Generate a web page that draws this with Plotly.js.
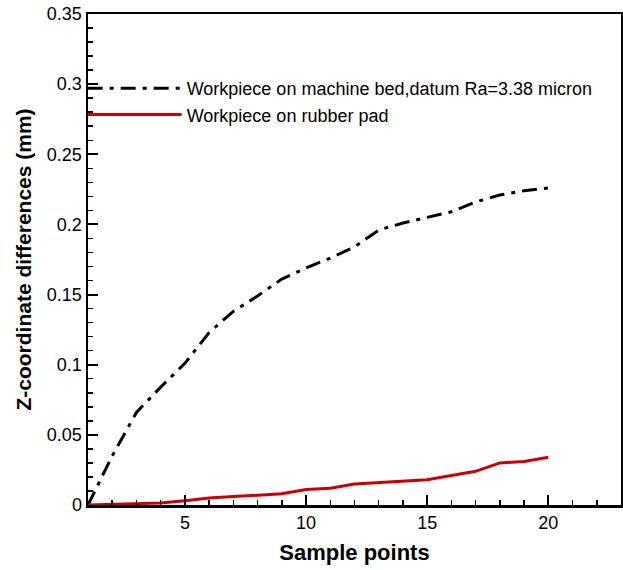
<!DOCTYPE html>
<html>
<head>
<meta charset="utf-8">
<script src="https://cdn.plot.ly/plotly-3.0.1.min.js"></script>
<style>html,body{margin:0;padding:0;background:#fff;}#chart{width:623px;height:570px;}</style>
</head>
<body>
<div id="chart"></div>
<script>
const samplePoints = [1,2,3,4,5,6,7,8,9,10,11,12,13,14,15,16,17,18,19,20];
const machineBed = [0,0.035,0.066,0.084,0.101,0.123,0.138,0.149,0.161,0.169,0.176,0.184,0.196,0.201,0.205,0.209,0.216,0.221,0.224,0.226];
const rubberPad = [0,0.0005,0.001,0.0015,0.003,0.005,0.006,0.007,0.008,0.011,0.012,0.015,0.016,0.017,0.018,0.021,0.024,0.030,0.031,0.034];
const seriesNames = ['Workpiece on machine bed,datum Ra=3.38 micron', 'Workpiece on rubber pad'];
const xTicks = [5,10,15,20];
const yTicks = [0,0.05,0.1,0.15,0.2,0.25,0.3,0.35];
const yTickText = ['0','0.05','0.1','0.15','0.2','0.25','0.3','0.35'];

const traces = [
  {x: samplePoints, y: machineBed, name: seriesNames[0], mode: 'lines',
   line: {color: '#000000', width: 3, dash: '15px,7px,4px,7px'}},
  {x: samplePoints, y: rubberPad, name: seriesNames[1], mode: 'lines',
   line: {color: '#cc0000', width: 3}}
];

const fam = 'Arial, Liberation Sans, sans-serif';
const axisFont = {family: fam, size: 18, color: '#000'};
const layout = {
  width: 623, height: 570,
  margin: {l: 88, r: 2, t: 14, b: 65},
  paper_bgcolor: '#fff', plot_bgcolor: '#fff',
  showlegend: true,
  legend: {x: -0.01, y: 0.886, xanchor: 'left', yanchor: 'top', bgcolor: 'rgba(0,0,0,0)',
           font: {family: fam, size: 18, color: '#000'},
           itemwidth: 94, tracegroupgap: 0},
  xaxis: {
    range: [1, 23], tickvals: xTicks, ticks: 'inside', ticklen: 10, tickwidth: 2, tickcolor: '#000',
    showline: true, linecolor: '#000', linewidth: 2.5, mirror: true, showgrid: false, zeroline: false,
    tickfont: axisFont,
    minor: {dtick: 1, ticks: 'inside', ticklen: 5, tickwidth: 1.5, tickcolor: '#000', showgrid: false},
    title: {text: '<b>Sample points</b>', font: {family: fam, size: 22, color: '#000'}, standoff: 13}
  },
  yaxis: {
    range: [0, 0.35], tickvals: yTicks, ticktext: yTickText, ticks: 'inside', ticklen: 10, tickwidth: 2, tickcolor: '#000',
    showline: true, linecolor: '#000', linewidth: 2.5, mirror: true, showgrid: false, zeroline: false,
    tickfont: axisFont,
    minor: {dtick: 0.01, ticks: 'inside', ticklen: 5, tickwidth: 1.5, tickcolor: '#000', showgrid: false},
    title: {text: '<b>Z-coordinate differences (mm)</b>', font: {family: fam, size: 21, color: '#000'}, standoff: 10}
  }
};
Plotly.newPlot('chart', traces, layout, {staticPlot: true, displayModeBar: false});
</script>
</body>
</html>
